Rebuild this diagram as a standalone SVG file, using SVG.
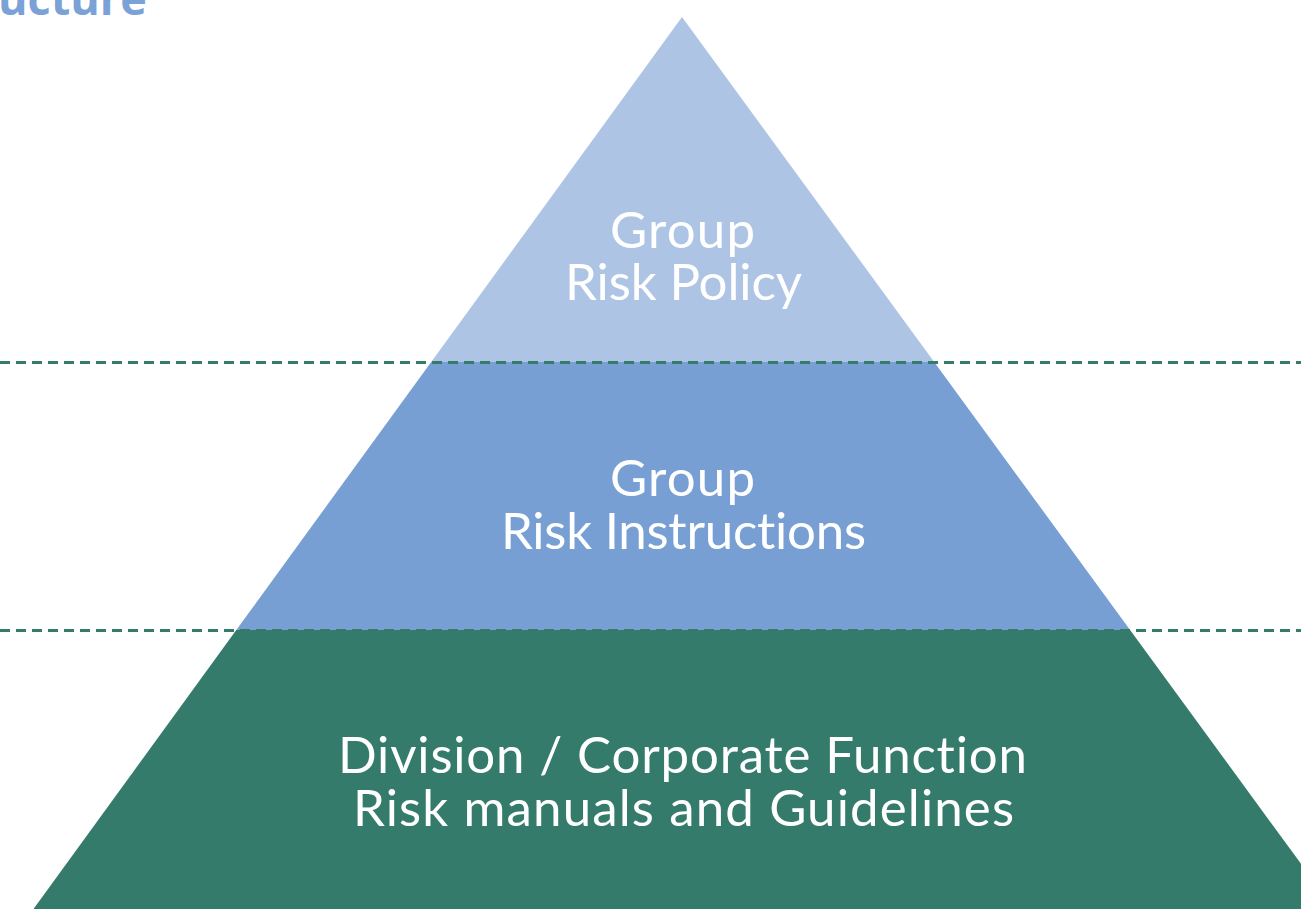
<svg xmlns="http://www.w3.org/2000/svg" width="1301" height="909" viewBox="0 0 1301 909">
  <style>
    .lbl { font-family: "Lato", "Noto Sans", sans-serif; font-size: 51px; fill: #ffffff; text-anchor: middle; font-variant-ligatures: none; }
    .title { font-family: "Open Sans", "Noto Sans", sans-serif; font-weight: bold; font-size: 45px; fill: #7ba2d6; }
    .sep { stroke: #357b6c; stroke-width: 3; stroke-dasharray: 10 6; fill: none; }
  </style>
  <rect width="1301" height="909" fill="#ffffff"/>
  <text class="title" x="-2" y="15">ucture</text>
  <g id="tier-top">
    <polygon points="682,17 934.2,362 431.2,362" fill="#aec4e4"/>
    <text class="lbl" x="682.5" y="248" textLength="145" lengthAdjust="spacing">Group</text>
    <text class="lbl" x="683.5" y="300" textLength="237" lengthAdjust="spacing">Risk Policy</text>
  </g>
  <g id="tier-middle">
    <polygon points="431.2,362 934.2,362 1130.1,630 236.3,630" fill="#779fd3"/>
    <text class="lbl" x="682.5" y="496" textLength="145" lengthAdjust="spacing">Group</text>
    <text class="lbl" x="683.5" y="549" textLength="365" lengthAdjust="spacing">Risk Instructions</text>
  </g>
  <g id="tier-bottom">
    <polygon points="236.3,630 1130.1,630 1334,909 33.5,909" fill="#357b6c"/>
    <text class="lbl" x="682.5" y="773" textLength="689" lengthAdjust="spacing">Division / Corporate Function</text>
    <text class="lbl" x="683.5" y="826" textLength="661" lengthAdjust="spacing">Risk manuals and Guidelines</text>
  </g>
  <g id="separators">
    <line class="sep" x1="0" y1="362.5" x2="1301" y2="362.5"/>
    <line class="sep" x1="0" y1="630.5" x2="1301" y2="630.5"/>
  </g>
</svg>
